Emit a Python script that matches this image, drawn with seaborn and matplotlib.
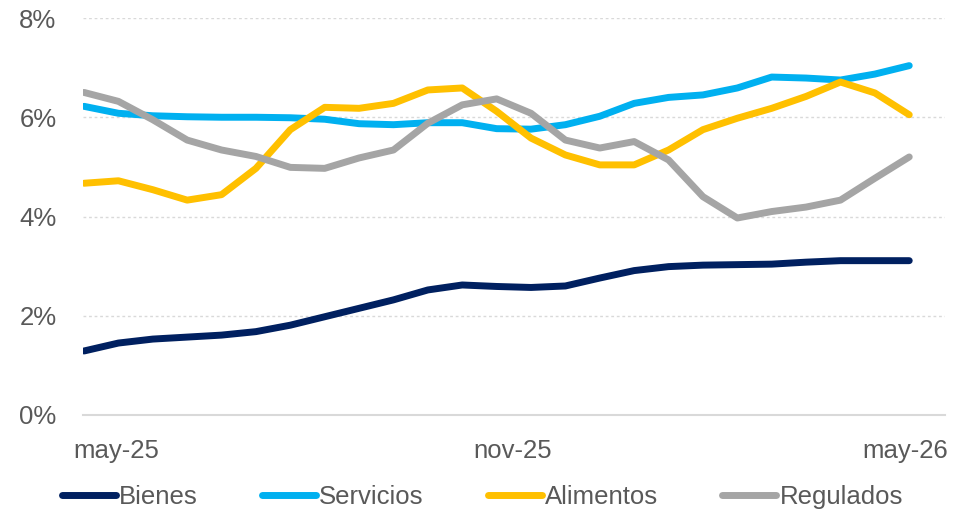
import pandas as pd
import seaborn as sns
import matplotlib.pyplot as plt
from matplotlib.ticker import FuncFormatter

# half-month readings, month index 0 = may-25, 12 = may-26
monthIndex = [k / 2 for k in range(25)]

bienes = [1.29, 1.45, 1.53, 1.57, 1.61, 1.68, 1.81, 1.98, 2.15, 2.32, 2.52, 2.62, 2.59,
          2.57, 2.60, 2.76, 2.91, 2.99, 3.02, 3.03, 3.04, 3.08, 3.11, 3.11, 3.11]
servicios = [6.22, 6.08, 6.03, 6.01, 6.00, 6.00, 5.99, 5.96, 5.87, 5.85, 5.89, 5.89, 5.77,
             5.76, 5.85, 6.02, 6.28, 6.40, 6.45, 6.59, 6.81, 6.79, 6.75, 6.87, 7.04]
alimentos = [4.67, 4.72, 4.54, 4.33, 4.44, 4.97, 5.75, 6.20, 6.18, 6.28, 6.55, 6.59, 6.12,
             5.58, 5.24, 5.04, 5.04, 5.34, 5.75, 5.98, 6.18, 6.42, 6.71, 6.49, 6.05]
regulados = [6.50, 6.32, 5.95, 5.54, 5.34, 5.21, 4.99, 4.97, 5.18, 5.34, 5.88, 6.25, 6.37,
             6.08, 5.54, 5.38, 5.51, 5.14, 4.40, 3.97, 4.10, 4.19, 4.33, 4.77, 5.20]

seriesNames = ["Bienes", "Servicios", "Alimentos", "Regulados"]
seriesColors = ["#002060", "#00B0F0", "#FFC000", "#A5A5A5"]
tickLabels = ["may-25", "nov-25", "may-26"]
yTicks = [0, 2, 4, 6, 8]

# label anchor positions (layout only)
tickPositions = [0.465, 6.23, 11.94]

frames = []
for name, values in zip(seriesNames, [bienes, servicios, alimentos, regulados]):
    frames.append(pd.DataFrame({"mes": monthIndex, "valor": values, "serie": name}))
dataFrame = pd.concat(frames, ignore_index=True)

sns.set_style("white")
plt.rcParams["font.family"] = ["Liberation Sans", "DejaVu Sans"]

fig = plt.figure(figsize=(9.67, 5.12), dpi=100)
ax = fig.add_axes([83 / 967, 1 - 415 / 512, (945 - 83) / 967, (415 - 18) / 512])

sns.lineplot(
    data=dataFrame, x="mes", y="valor", hue="serie",
    hue_order=seriesNames, palette=seriesColors,
    linewidth=5, solid_capstyle="round", solid_joinstyle="round",
    legend=False, ax=ax
)

ax.set_xlim(-0.015, 12.52)
ax.set_ylim(0, 8)
ax.set_yticks(yTicks)
ax.yaxis.set_major_formatter(FuncFormatter(lambda v, p: f"{int(v)}%"))
ax.set_xticks(tickPositions)
ax.set_xticklabels(tickLabels)
ax.set_xlabel("")
ax.set_ylabel("")

for tick in [2, 4, 6, 8]:
    ax.axhline(tick, color="#D9D9D9", linewidth=1, linestyle=(0, (2, 2)), zorder=0)

for side in ["top", "right", "left"]:
    ax.spines[side].set_visible(False)
ax.spines["bottom"].set_color("#D9D9D9")
ax.spines["bottom"].set_linewidth(1.5)

ax.tick_params(axis="both", length=0, labelsize=18.5, labelcolor="#595959")
ax.tick_params(axis="y", pad=19)
ax.tick_params(axis="x", pad=17)

handles = [plt.Line2D([], [], color=c, linewidth=5, solid_capstyle="round") for c in seriesColors]
fig.legend(
    handles, seriesNames, loc="center", bbox_to_anchor=(0.499, 1 - 497 / 512),
    ncol=4, frameon=False, fontsize=18.5, labelcolor="#595959",
    handlelength=2.1, handletextpad=0.12, columnspacing=2.5
)

fig.savefig("out.png", dpi=100)
